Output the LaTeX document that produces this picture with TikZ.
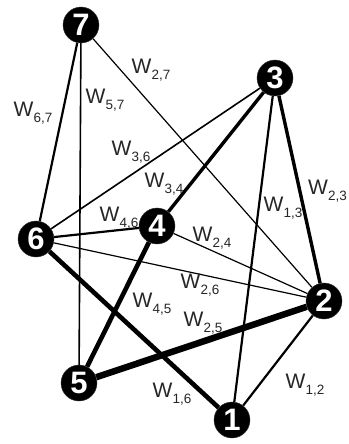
\documentclass[tikz,border=0pt]{standalone}
\usepackage{fontspec}
\setmainfont{Liberation Sans}
\usetikzlibrary{backgrounds}

% weight label: W with a lowered subscript
\newcommand{\wt}[1]{W\raisebox{-6pt}{\fontsize{13.5}{14}\selectfont #1}}

\begin{document}
\begin{tikzpicture}[x=1pt,y=-1pt]

    % Stijlen voor knopen, lijnen en gewichten
    \tikzset{
        vertex/.style={circle, fill=black, draw=black!80, text=white, minimum size=36pt, inner sep=0pt,
                       font=\fontsize{31}{31}\selectfont\bfseries},
        weight/.style={font=\fontsize{21}{24}\selectfont, inner sep=0pt, text=black!85},
        wfine/.style={line width=1.2pt},
        wthin/.style={line width=1.6pt},
        wmid/.style={line width=2.2pt},
        wthick/.style={line width=3.4pt},
        wheavy/.style={line width=4.6pt},
        wmax/.style={line width=6.5pt}
    }

    \useasboundingbox (0,0) rectangle (348,444);

    % --- KNOPEN ---
    \foreach \n/\x/\y in {1/232/420, 2/324/301, 3/275/78, 4/157/226, 5/79/383, 6/36/239, 7/81/25} {
        \node[vertex] (v\n) at (\x,\y) {\n};
    }

    % --- VERBINDINGEN ---
    \begin{scope}[on background layer]
        \draw[wmid]   (v6) -- (v7);
        \draw[wthin]  (v5) -- (v7);
        \draw[wfine]  (v2) -- (v7);
        \draw[wthin]  (v3) -- (v6);
        \draw[wthick] (v3) -- (v4);
        \draw[wmid]   (v1) -- (v3);
        \draw[wthick] (v2) -- (v3);
        \draw[wmid]   (v4) -- (v6);
        \draw[wfine]  (v2) -- (v4);
        \draw[wfine]  (v2) -- (v6);
        \draw[wheavy] (v1) -- (v6);
        \draw[wheavy] (v4) -- (v5);
        \draw[wmax]   (v2) -- (v5);
        \draw[wmid]   (v1) -- (v2);
    \end{scope}

    % --- GEWICHTEN ---
    \node[weight] (l67) at (33,113)  {\wt{6,7}};
    \node[weight] (l57) at (105,100) {\wt{5,7}};
    \node[weight] (l27) at (151,70)  {\wt{2,7}};
    \node[weight] (l36) at (131,152) {\wt{3,6}};
    \node[weight] (l34) at (164,184) {\wt{3,4}};
    \node[weight] (l46) at (119,218) {\wt{4,6}};
    \node[weight] (l24) at (212,238) {\wt{2,4}};
    \node[weight] (l13) at (283,208) {\wt{1,3}};
    \node[weight, anchor=west] (l23) at (308,191) {\wt{2,3}};
    \node[weight] (l26) at (200,285) {\wt{2,6}};
    \node[weight] (l45) at (152,304) {\wt{4,5}};
    \node[weight] (l25) at (203,323) {\wt{2,5}};
    \node[weight] (l16) at (172,394) {\wt{1,6}};
    \node[weight] (l12) at (305,385) {\wt{1,2}};

\end{tikzpicture}
\end{document}
